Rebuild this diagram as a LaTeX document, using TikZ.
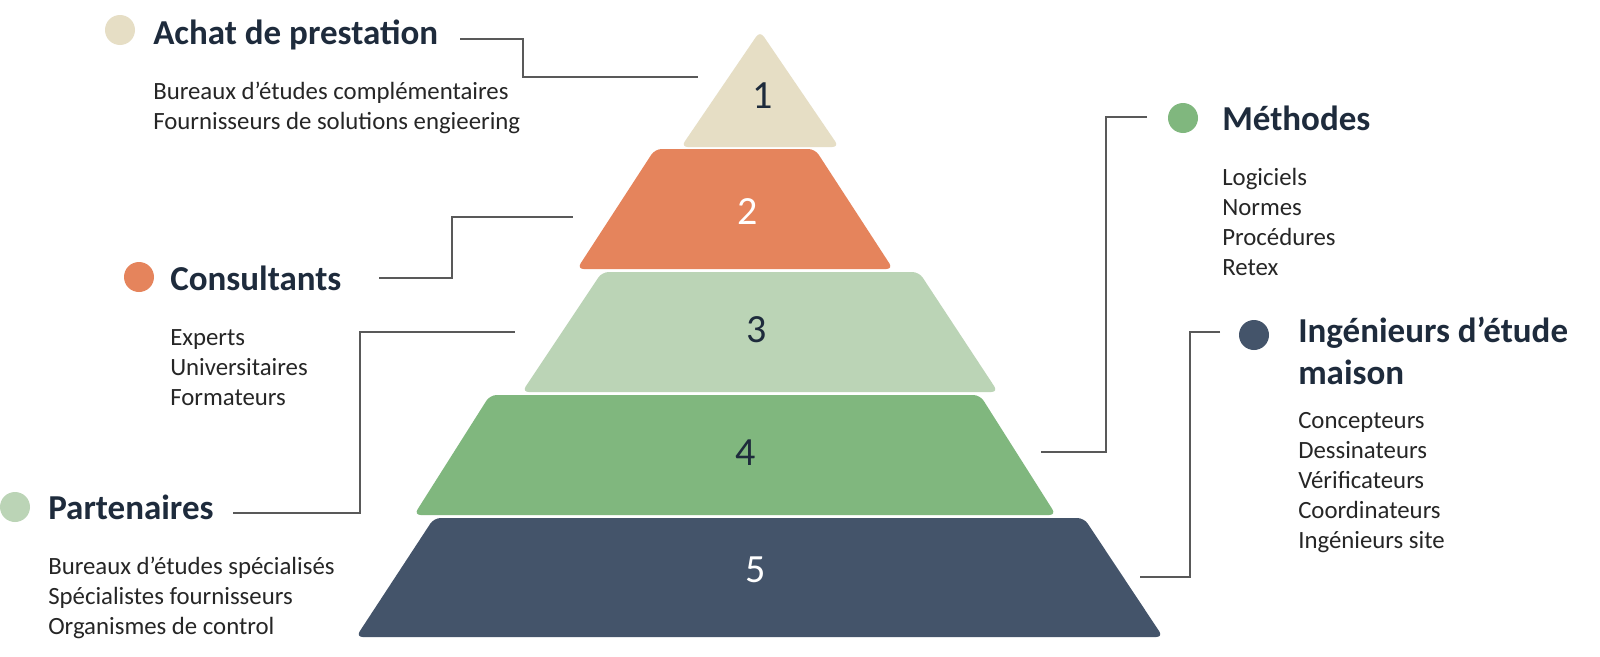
\documentclass[tikz,border=0pt]{standalone}
\usepackage{fontspec}
\setmainfont{Carlito}
\definecolor{beigec}{HTML}{E6DEC5}
\definecolor{orangec}{HTML}{E5845C}
\definecolor{lgreenc}{HTML}{BBD4B6}
\definecolor{greenc}{HTML}{80B77E}
\definecolor{navyc}{HTML}{44546A}
\definecolor{titlec}{HTML}{1E2B3C}
\definecolor{bodyc}{HTML}{262626}
\definecolor{linec}{HTML}{595959}
\begin{document}
\begin{tikzpicture}[x=0.75pt,y=-0.75pt,
  titlet/.style={anchor=base west, inner sep=0pt, text=titlec, font=\bfseries\fontsize{26.25}{31.5}\selectfont},
  bodyt/.style={anchor=base west, inner sep=0pt, text=bodyc, font=\fontsize{18.6}{22.5}\selectfont},
  dotc/.style={circle, inner sep=0pt, minimum size=22.5pt},
  numt/.style={inner sep=0pt, font=\fontsize{30}{36}\selectfont},
  conn/.style={draw=linec, line width=0.9pt},
  layer/.style={rounded corners=5pt}]
\useasboundingbox (0,0) rectangle (1600,657);
\fill[white] (0,0) rectangle (1600,657);

% pyramid layers
\fill[beigec, layer] (760,31) -- (839,147) -- (681,147) -- cycle;
\fill[orangec, layer] (655,149) -- (815,149) -- (893,269) -- (577,269) -- cycle;
\fill[lgreenc, layer] (602,272) -- (919,272) -- (998,392) -- (522,392) -- cycle;
\fill[greenc, layer] (490,395) -- (980,395) -- (1056,515) -- (414,515) -- cycle;
\fill[navyc, layer] (434,518) -- (1084,518) -- (1163,637) -- (356,637) -- cycle;

\node[numt, text=titlec] (n1) at (763,96) {1};
\node[numt, text=white] (n2) at (748,212) {2};
\node[numt, text=titlec] (n3) at (757,330) {3};
\node[numt, text=titlec] (n4) at (746,453) {4};
\node[numt, text=white] (n5) at (756,570) {5};

% Achat de prestation
\node[dotc, fill=beigec] (dA) at (120,30) {};
\node[titlet] (tA) at (153,44) {Achat de prestation};
\node[bodyt] (bA1) at (153,99) {Bureaux d’études complémentaires};
\node[bodyt] (bA2) at (153,129) {Fournisseurs de solutions engieering};

% Consultants
\node[dotc, fill=orangec] (dC) at (139,277) {};
\node[titlet] (tC) at (170,290) {Consultants};
\node[bodyt] (bC1) at (170,345) {Experts};
\node[bodyt] (bC2) at (170,375) {Universitaires};
\node[bodyt] (bC3) at (170,405) {Formateurs};

% Partenaires
\node[dotc, fill=lgreenc] (dP) at (15,507) {};
\node[titlet] (tP) at (48,519) {Partenaires};
\node[bodyt] (bP1) at (48,574) {Bureaux d’études spécialisés};
\node[bodyt] (bP2) at (48,604) {Spécialistes fournisseurs};
\node[bodyt] (bP3) at (48,634) {Organismes de control};

% Methodes
\node[dotc, fill=greenc] (dM) at (1183,118) {};
\node[titlet] (tM) at (1222,130) {Méthodes};
\node[bodyt] (bM1) at (1222,185) {Logiciels};
\node[bodyt] (bM2) at (1222,215) {Normes};
\node[bodyt] (bM3) at (1222,245) {Procédures};
\node[bodyt] (bM4) at (1222,275) {Retex};

% Ingenieurs
\node[dotc, fill=navyc] (dI) at (1254,335) {};
\node[titlet] (tI1) at (1298,342) {Ingénieurs d’étude};
\node[titlet] (tI2) at (1298,384) {maison};
\node[bodyt] (bI1) at (1298,428) {Concepteurs};
\node[bodyt] (bI2) at (1298,458) {Dessinateurs};
\node[bodyt] (bI3) at (1298,488) {Vérificateurs};
\node[bodyt] (bI4) at (1298,518) {Coordinateurs};
\node[bodyt] (bI5) at (1298,548) {Ingénieurs site};

% connector ends
\coordinate (aS) at (460,39);  \coordinate (aE) at (698,77);
\coordinate (cS) at (379,278); \coordinate (cE) at (573,217);
\coordinate (pS) at (233,513); \coordinate (pE) at (515,332);
\coordinate (mS) at (1147,117); \coordinate (mE) at (1041,452);
\coordinate (iS) at (1220,332); \coordinate (iE) at (1140,577);

\draw[conn] (aS) -- ++(63,0) |- (aE);
\draw[conn] (cS) -- ++(73,0) |- (cE);
\draw[conn] (pS) -- ++(127,0) |- (pE);
\draw[conn] (mS) -- ++(-41,0) |- (mE);
\draw[conn] (iS) -- ++(-30,0) |- (iE);
\end{tikzpicture}
\end{document}
